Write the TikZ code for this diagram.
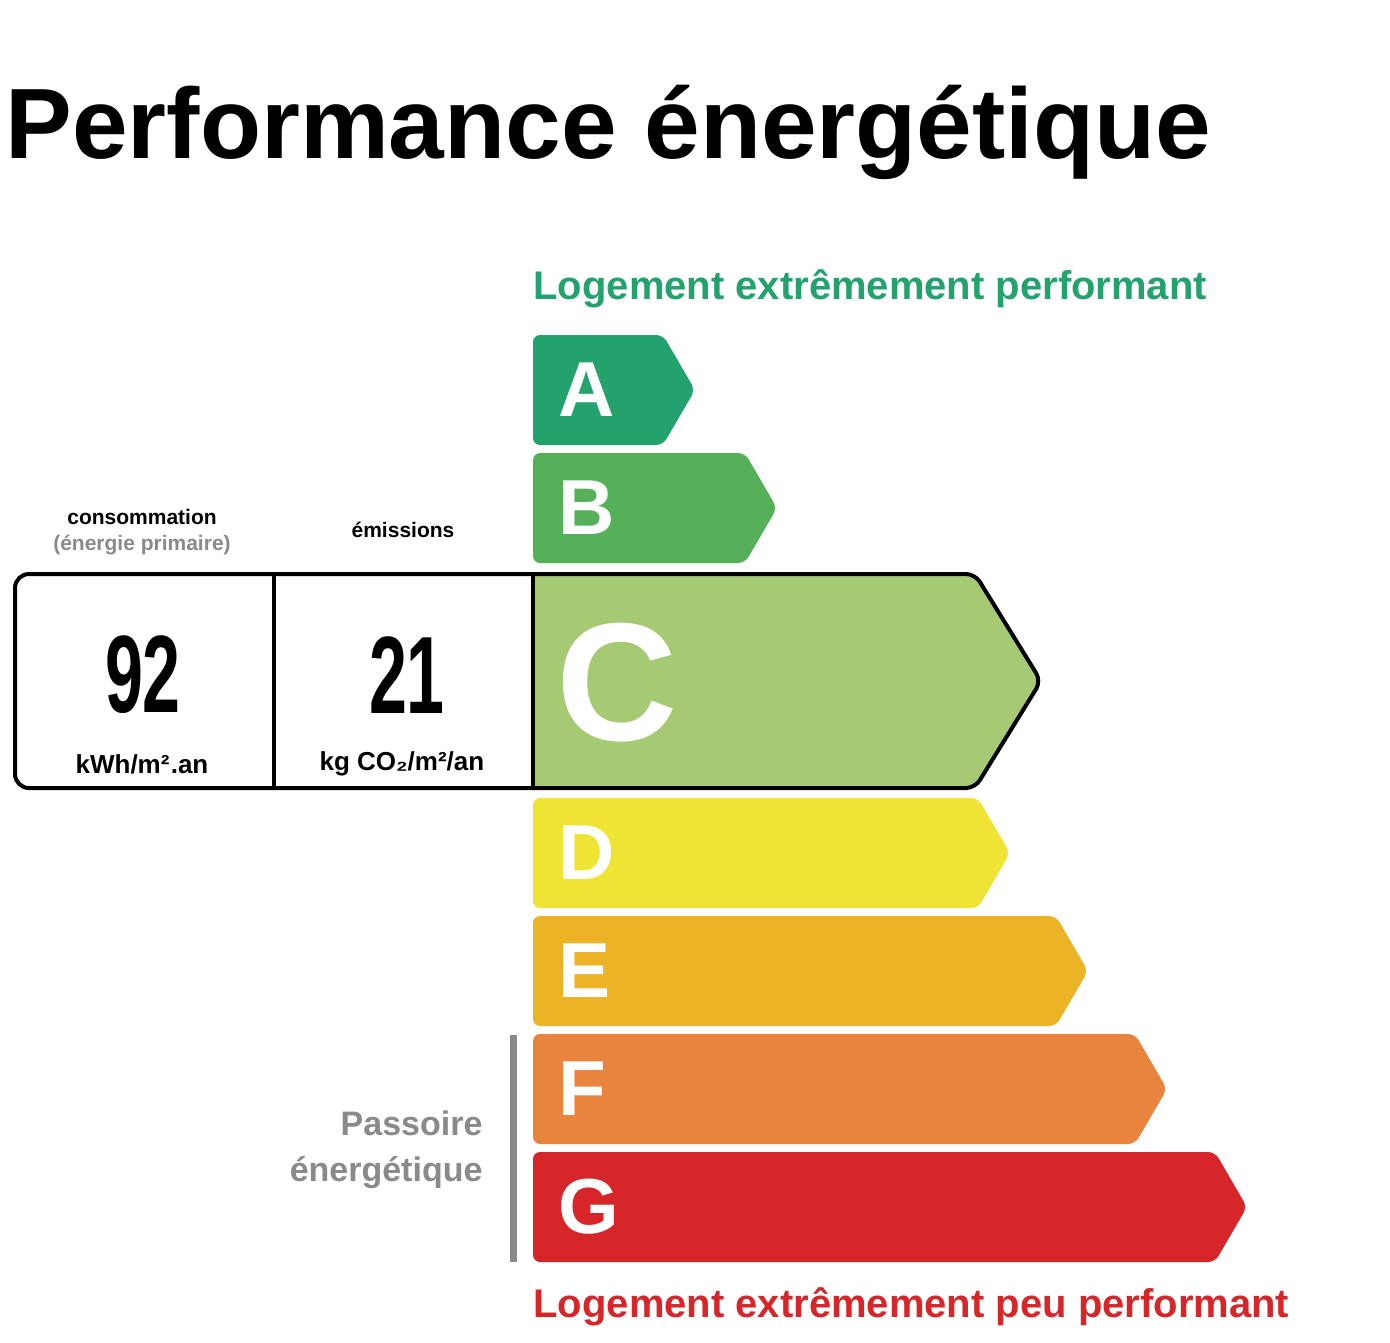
\documentclass[tikz,border=0pt]{standalone}
\usepackage{fontspec}
\setmainfont{Liberation Sans}
\usepackage{graphicx}
\definecolor{cA}{HTML}{24A26E}
\definecolor{cB}{HTML}{55B059}
\definecolor{cC}{HTML}{A6CA74}
\definecolor{cD}{HTML}{EFE434}
\definecolor{cE}{HTML}{EDB327}
\definecolor{cF}{HTML}{E8843E}
\definecolor{cG}{HTML}{D6262A}
\definecolor{gr}{HTML}{8A8A8A}
\begin{document}
\begin{tikzpicture}[x=1pt,y=-1pt,
  bar/.style={rounded corners=7pt},
  lett/.style={text=white,font=\bfseries\fontsize{78}{78}\selectfont,anchor=west},
  small/.style={font=\bfseries\fontsize{21}{24}\selectfont}]
\useasboundingbox (0,0) rectangle (1390,1342);
\node[anchor=west,font=\bfseries\fontsize{100}{100}\selectfont] (title) at (2,132) {Performance énergétique};
\node[anchor=west,text=cA,font=\bfseries\fontsize{40}{40}\selectfont] (top) at (530,289) {Logement extrêmement performant};
\node[anchor=west,text=cG,font=\bfseries\fontsize{40}{40}\selectfont] (bot) at (530,1307) {Logement extrêmement peu performant};
% bars
\def\bar#1#2#3#4#5{\fill[#4,bar] (533,#1) -- (#3-32,#1) -- (#3,#1/2+#2/2) -- (#3-32,#2) -- (533,#2) -- cycle;
  \node[lett] (L#5) at (555,#1/2+#2/2) {#5};}
\bar{335}{445}{695}{cA}{A}
\bar{453}{563}{777}{cB}{B}
\bar{798}{908}{1010}{cD}{D}
\bar{916}{1026}{1088}{cE}{E}
\bar{1034}{1144}{1167}{cF}{F}
\bar{1152}{1262}{1247}{cG}{G}
\draw[fill=cC,line width=4pt,rounded corners=9pt] (533,574) -- (975,574) -- (1041,681) -- (975,788) -- (533,788);
\node[text=white,anchor=west,font=\bfseries\fontsize{168}{168}\selectfont] (LC) at (553,683) {C};
\draw[line width=4pt,rounded corners=14pt] (533,574) -- (15,574) -- (15,788) -- (533,788);
\draw[line width=4pt] (533,574) -- (533,788);
\draw[line width=4pt] (274,574) -- (274,788);
\node[font=\bfseries\fontsize{110}{110}\selectfont] (n1) at (143,675) {\scalebox{0.62}[1]{92}};
\node[font=\bfseries\fontsize{110}{110}\selectfont] (n2) at (407,675) {\scalebox{0.62}[1]{21}};
\node[small,font=\bfseries\fontsize{26}{28}\selectfont] (u1) at (142,764) {kWh/m²\hspace{0.05em}.an};
\node[small,font=\bfseries\fontsize{26}{28}\selectfont] (u2) at (402,764) {kg CO₂/m²/an};
\node[small] (cons) at (142,517) {consommation};
\node[small,text=gr] (prim) at (142,545) {(énergie primaire)};
\node[small] (emi) at (403,530) {émissions};
\fill[gr] (510,1035) rectangle (517,1262);
\node[anchor=east,align=right,text=gr,font=\bfseries\fontsize{34}{46}\selectfont] (pass) at (486,1150) {Passoire\\énergétique};
\end{tikzpicture}
\end{document}
